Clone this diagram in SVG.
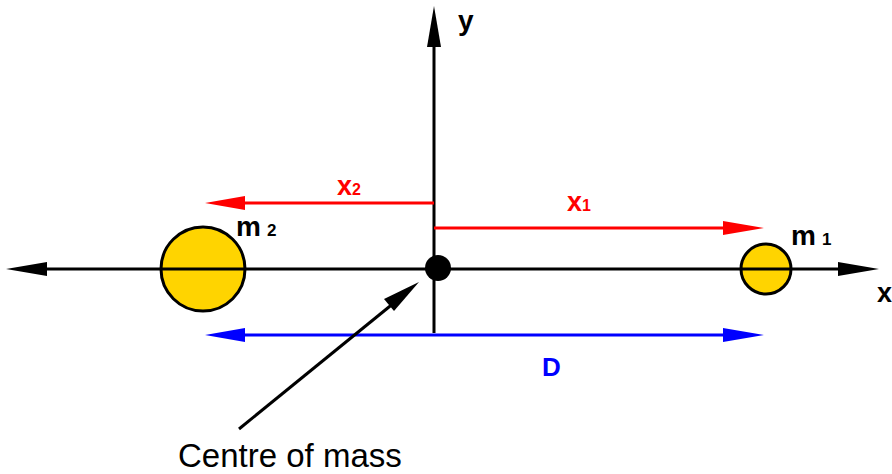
<svg xmlns="http://www.w3.org/2000/svg" width="892" height="474" viewBox="0 0 892 474">
<style>
.lbl{font-family:"Liberation Sans",Arial,sans-serif;font-weight:bold;}
.ax{stroke:#000;stroke-width:3;fill:none;}
.red{stroke:#ff0000;stroke-width:3;fill:none;}
.blue{stroke:#0000ff;stroke-width:3;fill:none;}
.planet{fill:#ffd400;stroke:#000;stroke-width:3;}
</style>
<rect width="892" height="474" fill="#fff"/>
<g id="connectors">
  <line class="ax" x1="44" y1="269" x2="842" y2="269"/>
  <polygon points="6,269 47,262 47,276" fill="#000"/>
  <polygon points="879,269 838,262 838,276" fill="#000"/>
  <line class="ax" x1="434" y1="333" x2="434" y2="44"/>
  <polygon points="434,6 427,47 441,47" fill="#000"/>
  <line class="red" x1="434" y1="203" x2="243" y2="203"/>
  <polygon points="205,203 245,196 245,210" fill="#ff0000"/>
  <line class="red" x1="434" y1="228" x2="725" y2="228"/>
  <polygon points="764,228 723,221 723,235" fill="#ff0000"/>
  <line class="blue" x1="243" y1="335" x2="725" y2="335"/>
  <polygon points="205,335 245,328 245,342" fill="#0000ff"/>
  <polygon points="764,335 723,328 723,342" fill="#0000ff"/>
  <line class="ax" x1="239" y1="429" x2="400" y2="298"/>
  <polygon points="419,282 384,299 394,311" fill="#000"/>
</g>
<g id="m2"><circle class="planet" cx="203" cy="269" r="42"/><line class="ax" x1="161" y1="269" x2="245" y2="269"/><text class="lbl" x="236" y="236" font-size="28">m<tspan font-size="17" dx="6">2</tspan></text></g>
<g id="m1"><circle class="planet" cx="766" cy="269" r="25"/><line class="ax" x1="741" y1="269" x2="791" y2="269"/><text class="lbl" x="791" y="245" font-size="28">m<tspan font-size="17" dx="6">1</tspan></text></g>
<g id="com"><circle cx="438" cy="268" r="13" fill="#000"/></g>
<g id="labels">
  <text class="lbl" x="458" y="30" font-size="28">y</text>
  <text class="lbl" x="877" y="302" font-size="27">x</text>
  <text class="lbl" x="337" y="195" font-size="27" fill="#ff0000">x<tspan font-size="16">2</tspan></text>
  <text class="lbl" x="567" y="211" font-size="27" fill="#ff0000">x<tspan font-size="16">1</tspan></text>
  <text class="lbl" x="542" y="376" font-size="26" fill="#0000ff">D</text>
  <text x="178" y="467" font-size="33" font-family="Liberation Sans,Arial,sans-serif">Centre of mass</text>
</g>
</svg>
